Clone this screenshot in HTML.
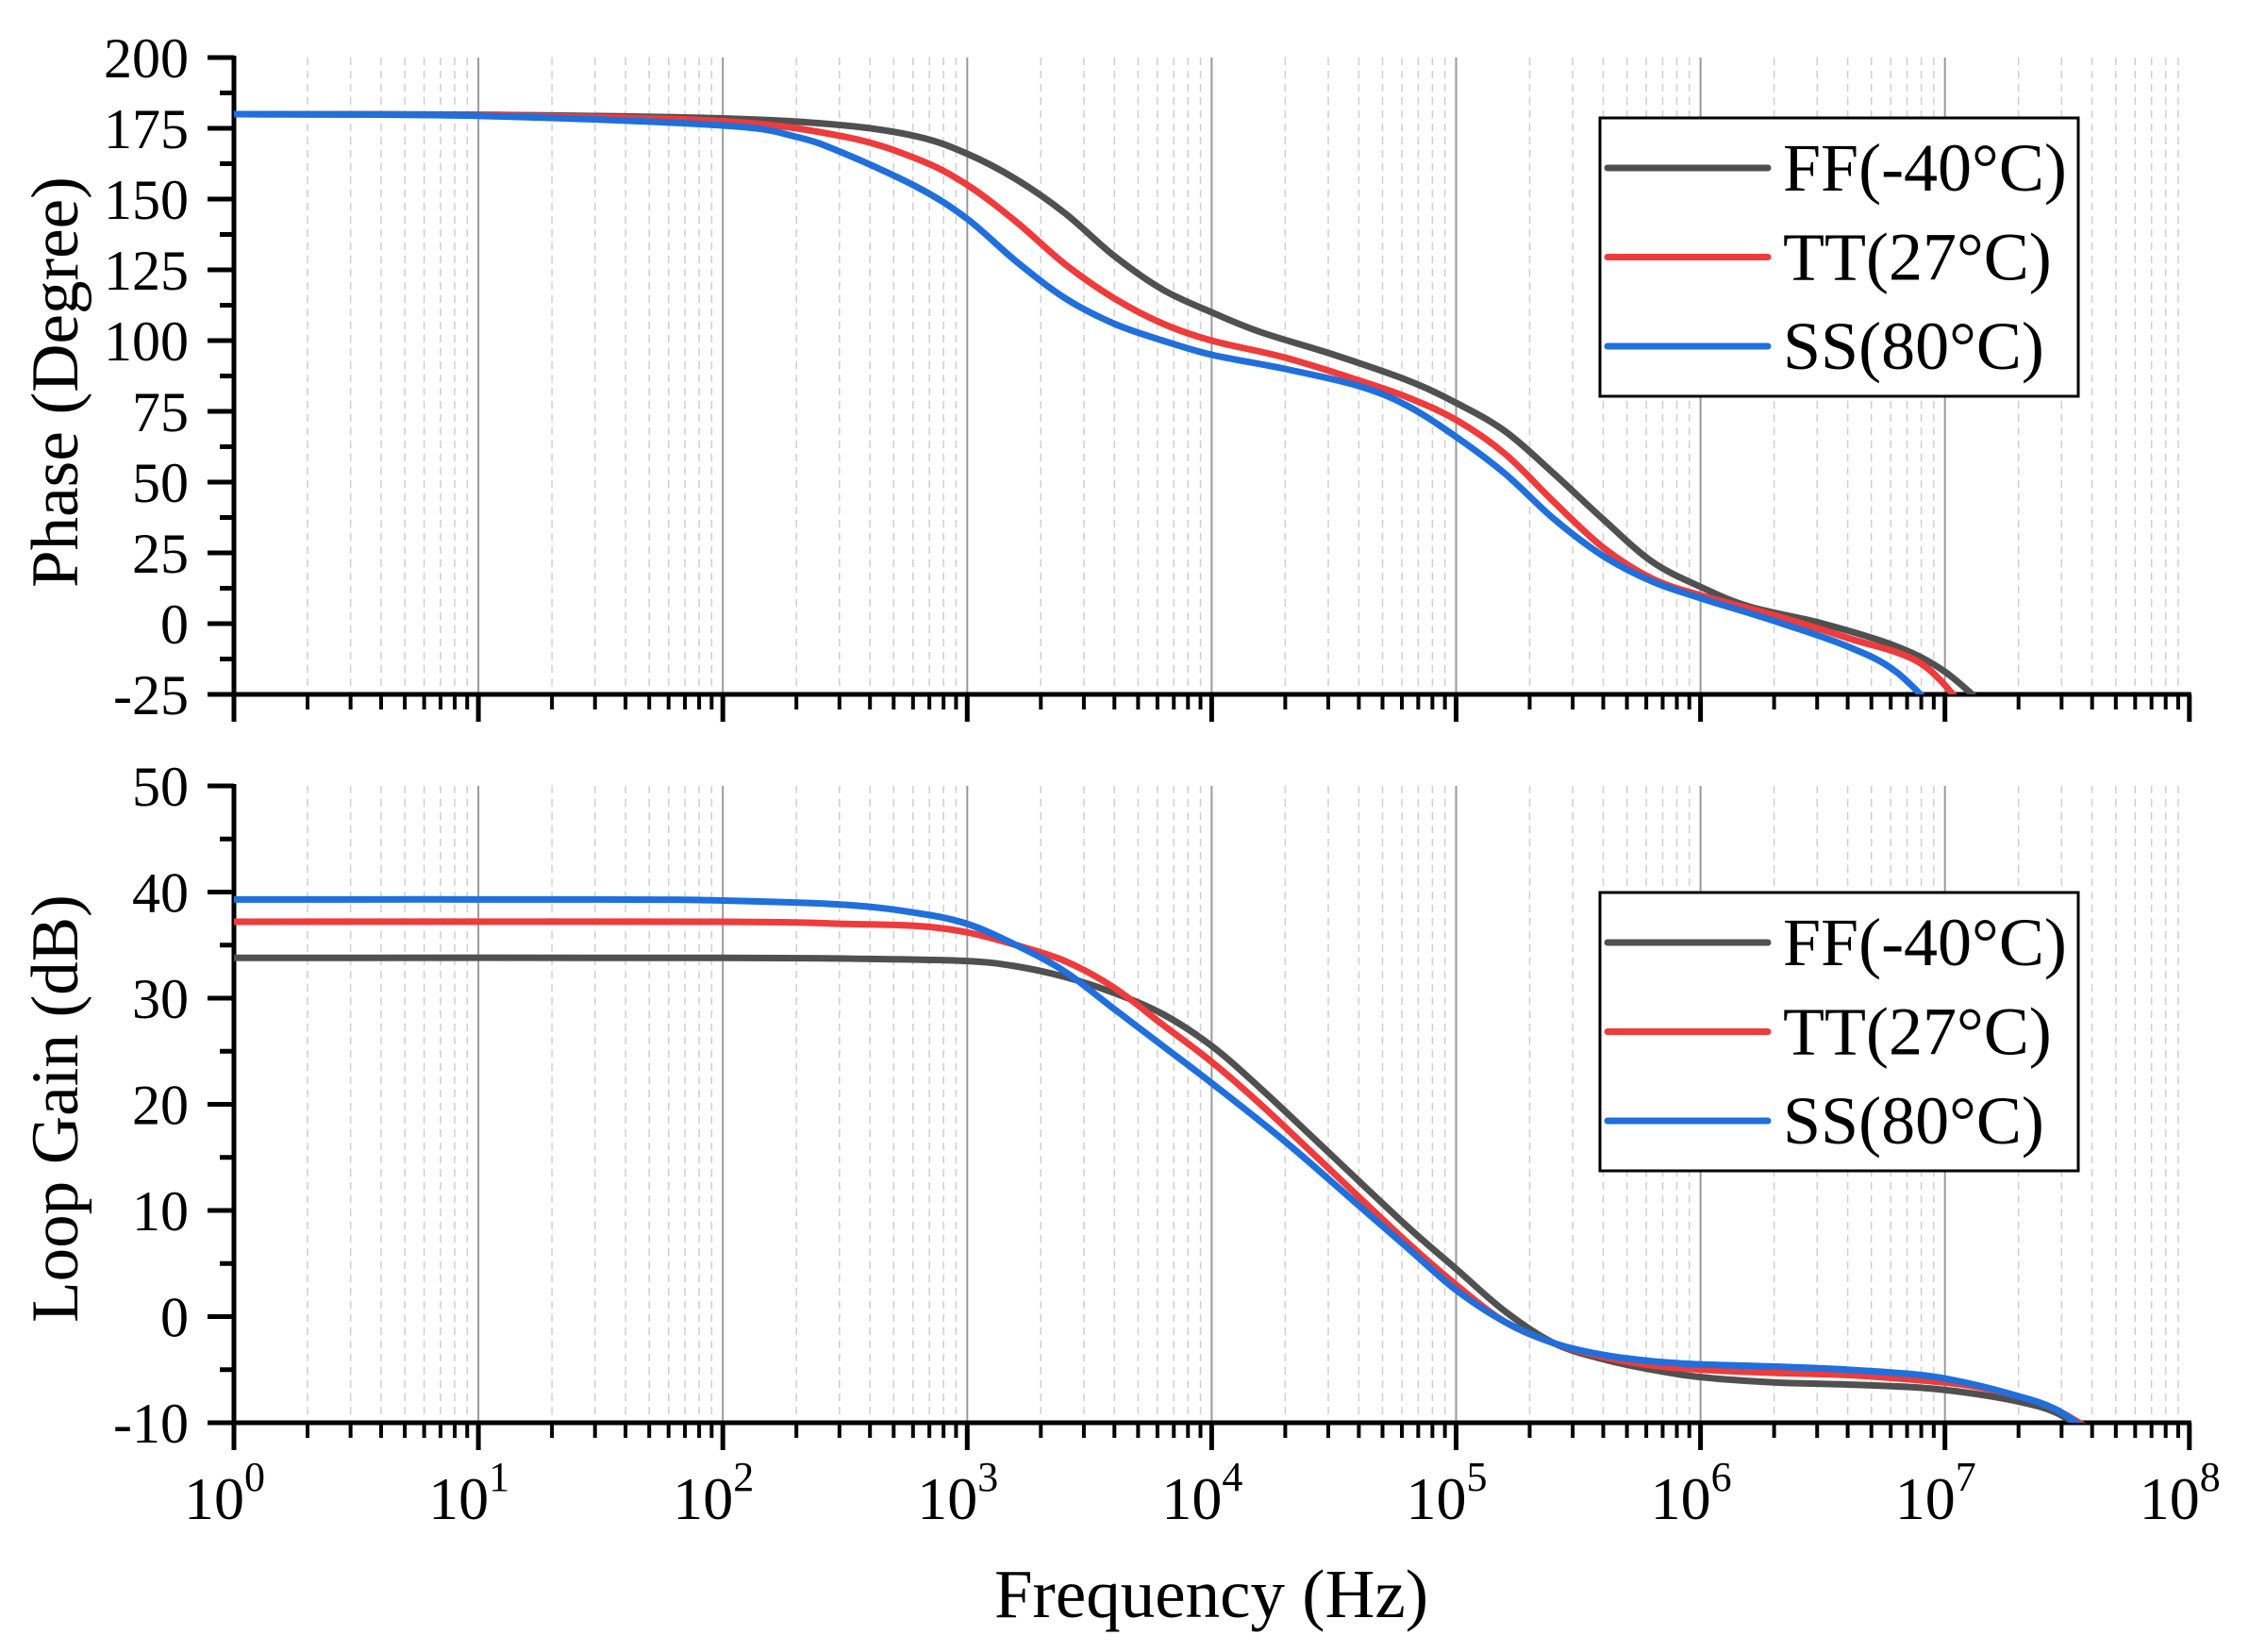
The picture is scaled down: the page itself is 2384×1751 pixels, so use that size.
<!DOCTYPE html>
<html><head><meta charset="utf-8">
<style>html,body{margin:0;padding:0;background:#fff;}svg{display:block;}</style>
</head><body>
<svg id="s" width="2384" height="1751" viewBox="0 0 2384 1751" xmlns="http://www.w3.org/2000/svg" font-family="Liberation Serif, serif">
<defs>
<clipPath id="c1"><rect x="248" y="61" width="2073" height="675"/></clipPath>
<clipPath id="c2"><rect x="248" y="833" width="2073" height="675"/></clipPath>
</defs>
<g id="g"></g>
</svg>
<script>
const g=document.getElementById('g');
let h='';
const X0=248,DEC=259.1;
const fx=l=>X0+l*DEC;
const pY=v=>61+(200-v)/225*675;
const gY=v=>833+(50-v)/60*675;
const panels=[{top:61,bot:736,Y:pY,min:-25,max:200,maj:25},{top:833,bot:1508,Y:gY,min:-10,max:50,maj:10}];
for(const P of panels){
 for(let d=0;d<8;d++){for(let k=2;k<10;k++){const x=fx(d+Math.log10(k));h+=`<line x1="${x}" y1="${P.top}" x2="${x}" y2="${P.bot}" stroke="#cfcfcf" stroke-width="1.5" stroke-dasharray="8,6"/>`;}}
 for(let d=1;d<8;d++){const x=fx(d);h+=`<line x1="${x}" y1="${P.top}" x2="${x}" y2="${P.bot}" stroke="#999" stroke-width="2"/>`;}
 for(let v=P.min;v<=P.max+0.01;v+=P.maj/2){const y=P.Y(v);const maj=Math.abs((v-P.min)%P.maj)<0.01;h+=`<line x1="${X0-(maj?28:15)}" y1="${y}" x2="${X0}" y2="${y}" stroke="#000" stroke-width="5"/>`;
  if(maj)h+=`<text x="200" y="${y+21}" font-size="60" text-anchor="end">${v}</text>`;}
 for(let d=0;d<=8;d++){const x=fx(d);h+=`<line x1="${x}" y1="${P.bot}" x2="${x}" y2="${P.bot+29}" stroke="#000" stroke-width="5"/>`;
  if(d<8)for(let k=2;k<10;k++){const xx=fx(d+Math.log10(k));h+=`<line x1="${xx}" y1="${P.bot}" x2="${xx}" y2="${P.bot+16}" stroke="#000" stroke-width="4"/>`;}}
 h+=`<line x1="${X0}" y1="${P.top-2}" x2="${X0}" y2="${P.bot+2}" stroke="#000" stroke-width="5"/>`;
 h+=`<line x1="${X0-2}" y1="${P.bot}" x2="${fx(8)+2}" y2="${P.bot}" stroke="#000" stroke-width="5"/>`;
}
function path(pts,Y){const p=pts.map(a=>[fx(a[0]),Y(a[1])]);let d=`M${p[0][0]},${p[0][1]}`;
 for(let i=0;i<p.length-1;i++){const p0=p[Math.max(0,i-1)],p1=p[i],p2=p[i+1],p3=p[Math.min(p.length-1,i+2)];
  const c1=[p1[0]+(p2[0]-p0[0])/6,p1[1]+(p2[1]-p0[1])/6],c2=[p2[0]-(p3[0]-p1[0])/6,p2[1]-(p3[1]-p1[1])/6];
  d+=` C${c1[0]},${c1[1]} ${c2[0]},${c2[1]} ${p2[0]},${p2[1]}`;}return d;}
const col={FF:'#505050',TT:'#ef3b3b',SS:'#1f6fdc'};
const ph={
FF:[[0,180],[1,179.8],[2,178.5],[2.5,176],[2.8,172],[3,166],[3.2,157],[3.4,145],[3.6,130],[3.8,118],[4,110],[4.2,103],[4.5,95],[4.8,86],[5,78],[5.2,68],[5.4,53],[5.6,37],[5.8,22],[6,13],[6.2,6],[6.5,0],[6.8,-8],[7,-17],[7.2,-32]],
TT:[[0,180],[1,179.6],[2,177.5],[2.5,172],[2.8,164],[3,155],[3.2,142],[3.4,127],[3.6,115],[3.8,106],[4,100],[4.3,94],[4.6,86],[4.8,80],[5,72],[5.2,60],[5.4,43],[5.6,27],[5.8,16],[6,10],[6.3,3],[6.6,-5],[6.9,-14],[7.1,-32]],
SS:[[0,180],[1,179.4],[2,176],[2.3,172],[2.5,166],[2.8,154],[3,143],[3.2,128],[3.4,115],[3.6,106],[3.8,100],[4,95],[4.3,90],[4.6,84],[4.8,77],[5,66],[5.2,53],[5.4,37],[5.6,24],[5.8,15],[6,9],[6.3,1],[6.6,-8],[6.8,-17],[7,-34]]};
const ga={
FF:[[0,33.8],[2,33.8],[2.6,33.7],[3,33.5],[3.2,33],[3.4,32],[3.6,30.5],[3.8,28.5],[4,25.5],[4.2,21.5],[4.5,15],[4.8,8.5],[5,4.5],[5.2,0.5],[5.4,-2.5],[5.6,-4],[5.8,-5],[6,-5.7],[6.3,-6.2],[6.6,-6.4],[6.9,-6.7],[7.1,-7.2],[7.3,-8],[7.45,-9],[7.6,-11]],
TT:[[0,37.2],[2,37.2],[2.5,37],[2.8,36.8],[3,36.2],[3.2,35],[3.4,33.5],[3.6,31],[3.8,27.5],[4,24],[4.2,20],[4.5,13.5],[4.8,7],[5,3],[5.2,-0.5],[5.4,-2.5],[5.6,-3.8],[5.8,-4.6],[6,-5],[6.3,-5.3],[6.6,-5.5],[6.9,-6],[7.1,-6.5],[7.3,-7.5],[7.45,-8.7],[7.62,-11]],
SS:[[0,39.3],[1.5,39.3],[2,39.2],[2.5,38.8],[2.8,38],[3,37],[3.2,35],[3.4,32.5],[3.6,29],[3.8,25.5],[4,22],[4.3,16.5],[4.6,10.5],[4.8,6.5],[5,2.5],[5.2,-0.5],[5.4,-2.5],[5.6,-3.6],[5.8,-4.2],[6,-4.5],[6.3,-4.7],[6.6,-5],[6.9,-5.5],[7.1,-6.3],[7.3,-7.5],[7.45,-8.7],[7.6,-11]]};
for(const k of ['FF','TT','SS']){
 h+=`<path d="${path(ph[k],pY)}" fill="none" stroke="${col[k]}" stroke-width="7" clip-path="url(#c1)"/>`;
 h+=`<path d="${path(ga[k],gY)}" fill="none" stroke="${col[k]}" stroke-width="7" clip-path="url(#c2)"/>`;
}
for(let d=0;d<=8;d++){const x=fx(d);h+=`<text x="${x-10}" y="1610" font-size="64" text-anchor="middle">10<tspan dy="-30" font-size="44">${d}</tspan></text>`;}
h+=`<text x="1284" y="1714" font-size="73" text-anchor="middle">Frequency (Hz)</text>`;
h+=`<text transform="translate(82,405) rotate(-90)" font-size="71" text-anchor="middle">Phase (Degree)</text>`;
h+=`<text transform="translate(82,1175) rotate(-90)" font-size="71" text-anchor="middle">Loop Gain (dB)</text>`;
for(const off of [0,821]){
 h+=`<rect x="1696" y="${125+off}" width="507" height="295" fill="#fff" stroke="#000" stroke-width="3"/>`;
 const names=[['FF','FF(-40°C)'],['TT','TT(27°C)'],['SS','SS(80°C)']];
 names.forEach((n,i)=>{const y=178+i*94.5+off;
  h+=`<line x1="1704" y1="${y}" x2="1874" y2="${y}" stroke="${col[n[0]]}" stroke-width="7" stroke-linecap="round"/>`;
  h+=`<text x="1890" y="${y+24}" font-size="72">${n[1]}</text>`;});
}
g.innerHTML=h;
</script>
</body></html>
